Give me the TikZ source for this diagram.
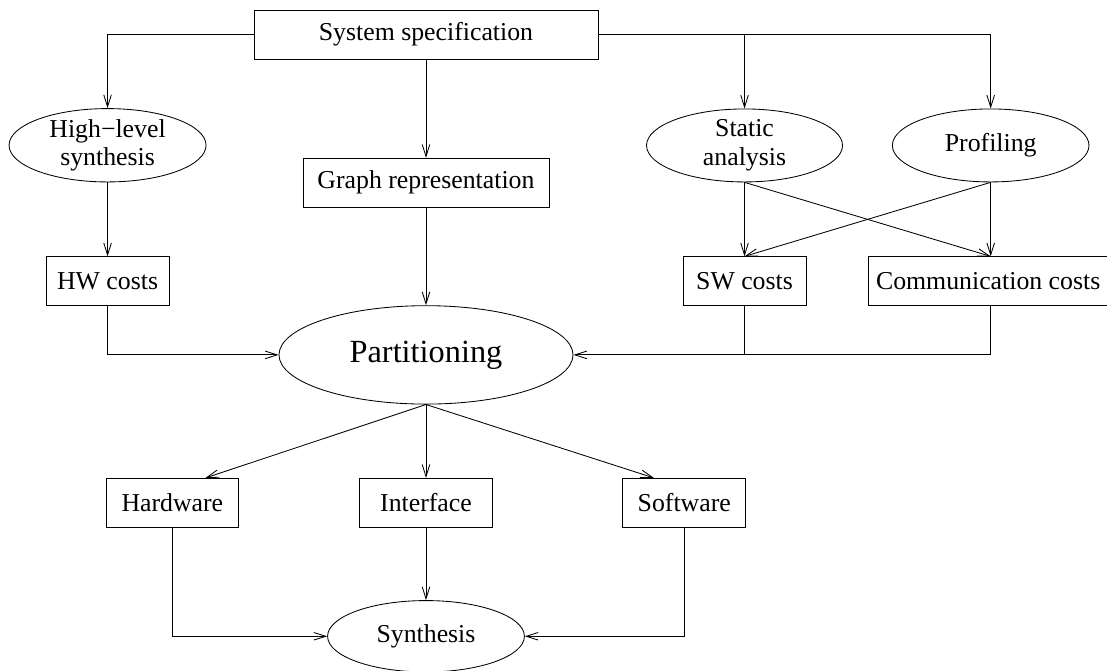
\documentclass[tikz,border=0pt]{standalone}
\usepackage{fontspec}
\setmainfont{Liberation Serif}
\usetikzlibrary{positioning,arrows.meta,shapes.geometric}

\begin{document}
\begin{tikzpicture}[font=\fontsize{18.35}{20.2}\selectfont,
  box/.style={draw,line width=0.6pt,minimum height=12.25mm,inner sep=0pt,align=center},
  oval/.style={ellipse,draw,line width=0.6pt,inner sep=0pt,align=center},
  ar/.style={-{Straight Barb[length=3mm,width=1.9mm]},line width=0.6pt},
  ln/.style={line width=0.6pt}]
  \useasboundingbox (-106.5mm,8.625mm) rectangle (170.25mm,-159.125mm);
  % specification and the middle column
  \node[box,minimum width=86mm] (spec) {System specification};
  \node[box,minimum width=61.5mm,below=24.6mm of spec] (graph) {Graph representation};
  \node[oval,minimum width=73.5mm,minimum height=24.6mm,below=24.4mm of graph,
    font=\fontsize{23}{27}\selectfont] (part) {Partitioning};
  % cost estimates on both sides
  \node[box,minimum width=30.7mm,left=27.3mm of part,yshift=18.4mm] (hw) {HW costs};
  \node[box,minimum width=30.75mm,right=27.3mm of part,yshift=18.4mm] (sw) {SW costs};
  \node[box,minimum width=59.75mm,right=15.45mm of sw] (comm) {Communication costs};
  \node[oval,minimum width=49.25mm,minimum height=18.15mm,above=18.5mm of hw] (hls) {High−level\\synthesis};
  \node[oval,minimum width=49mm,minimum height=18.25mm,above=18.5mm of sw] (static) {Static\\analysis};
  \node[oval,minimum width=49.15mm,minimum height=18.25mm,right=12.25mm of static] (prof) {Profiling};
  % results of the partitioning
  \node[box,minimum width=33.2mm,below=18.35mm of part] (inter) {Interface};
  \node[box,minimum width=33.2mm,left=30mm of inter] (hard) {Hardware};
  \node[box,minimum width=30.7mm,right=32.4mm of inter] (soft) {Software};
  \node[oval,minimum width=49.2mm,minimum height=17.85mm,below=18.1mm of inter] (synth) {Synthesis};
  % top fan-out
  \draw[ar] (spec.west) -| (hls.north);
  \draw[ar] (spec.east) -| (static.north);
  \draw[ar] (spec.east) -| (prof.north);
  \draw[ar] (spec) -- (graph);
  \draw[ar] (hls) -- (hw);
  \draw[ar] (static.south) -- (sw.north);
  \draw[ar] (prof.south) -- (prof.south |- comm.north);
  \draw[ar] (static.south) -- (prof.south |- comm.north);
  \draw[ar] (prof.south) -- (sw.north);
  % into partitioning
  \draw[ar] (graph) -- (part);
  \draw[ar] (hw.south) |- (part.west);
  \draw[ln] (sw.south) -- (sw.south |- part.east);
  \draw[ar] (prof.south |- comm.south) |- (part.east);
  % out of partitioning
  \draw[ar] (part.south) -- ([xshift=8.3mm]hard.north);
  \draw[ar] (part.south) -- (inter.north);
  \draw[ar] (part.south) -- ([xshift=-7.6mm]soft.north);
  \draw[ar] (hard.south) |- (synth.west);
  \draw[ar] (inter) -- (synth);
  \draw[ar] (soft.south) |- (synth.east);
\end{tikzpicture}
\end{document}
